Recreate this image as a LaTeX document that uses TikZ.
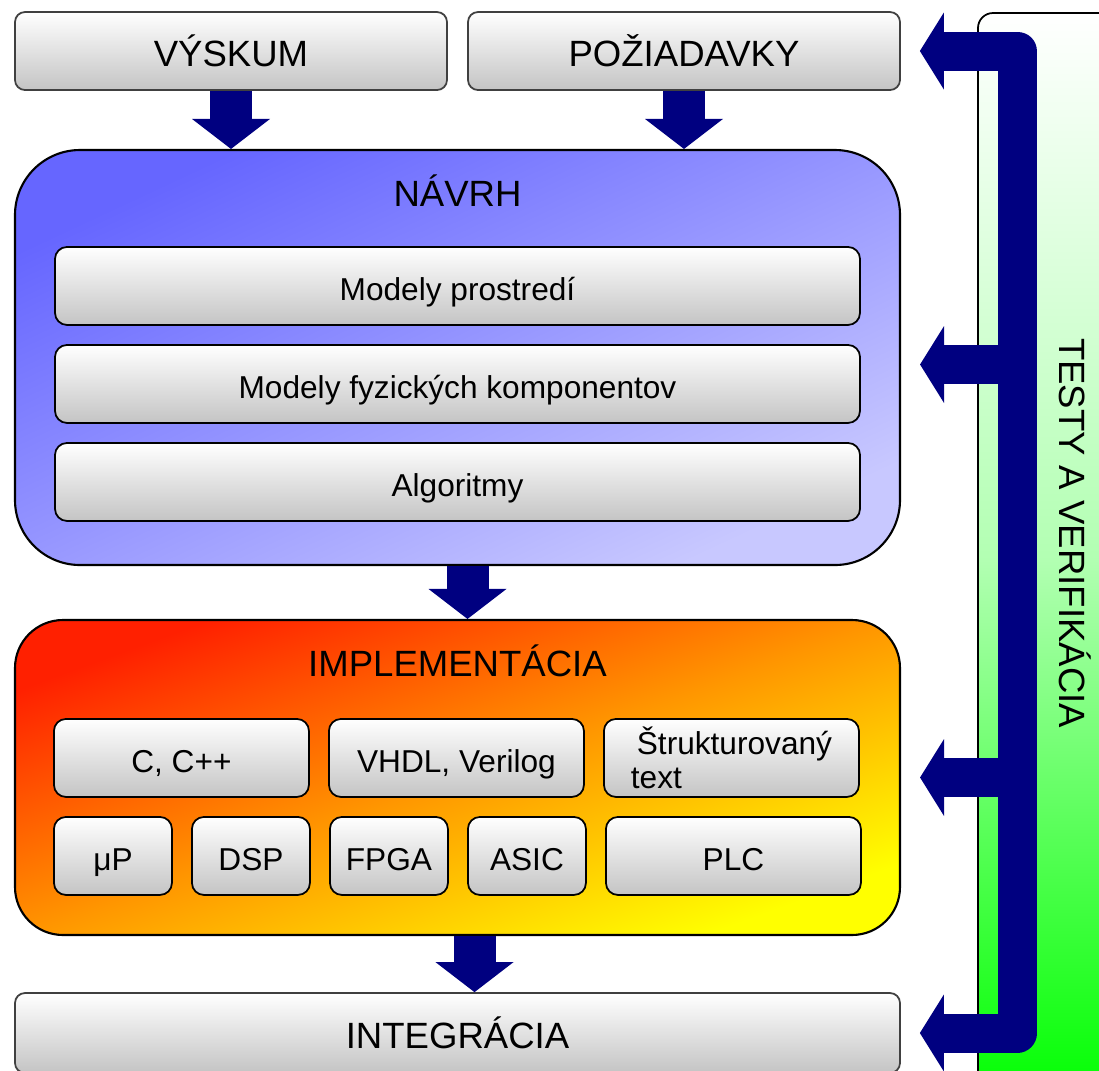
\documentclass[tikz,border=0pt]{standalone}
\usepackage{fontspec}
\setmainfont{Liberation Sans}
\usetikzlibrary{arrows.meta,positioning}
\definecolor{navyarrow}{RGB}{0,0,128}
\definecolor{designtop}{RGB}{102,102,255}
\definecolor{designbottom}{RGB}{200,200,255}
\definecolor{buildred}{RGB}{255,32,0}
\definecolor{buildorange}{RGB}{255,150,0}
\definecolor{buildyellow}{RGB}{255,255,0}
\definecolor{boxgray}{RGB}{196,196,196}

\begin{document}
\begin{tikzpicture}[node distance=0.2cm,
    panel/.style={rectangle, rounded corners=0.1cm, draw=black!75, line width=0.5pt, top color=white, bottom color=boxgray, text centered, minimum height=0.78cm, font=\fontsize{10.4}{12}\selectfont},
    item/.style={rectangle, rounded corners=0.12cm, draw=black, line width=0.5pt, outer sep=0pt, top color=white, bottom color=boxgray, text centered, text height=8.2pt, text depth=0pt, minimum height=0.78cm, font=\fontsize{9}{9.7}\selectfont},
    design/.style={rectangle, rounded corners=0.65cm, draw=black, line width=0.6pt, top color=designtop, bottom color=designbottom, shading angle=25, minimum width=8.85cm, minimum height=4.15cm},
    build/.style={rectangle, rounded corners=0.48cm, draw=black, line width=0.6pt, top color=buildred, bottom color=buildyellow, middle color=buildorange, shading angle=20, minimum width=8.85cm, minimum height=3.15cm},
    strip/.style={rectangle, rounded corners=0.15cm, draw=black, line width=0.5pt, top color=white, bottom color=green, middle color=green!30, minimum width=1.94cm, minimum height=10.9cm},
    headline/.style={font=\fontsize{10.4}{12}\selectfont},
    flow/.style={draw=navyarrow, line width=0.42cm, -{Triangle[width=0.78cm, length=0.30cm, line width=0pt]}},
    rail/.style={draw=navyarrow, line width=0.39cm, line join=round}]
  \clip (0,0) rectangle (10.99,-10.70);

  % testy a verifikacia
  \node (testy) [strip] at (10.75,-5.58) {};
  \node (testytext) [headline, rotate=-90] at (10.75,-5.33) {TESTY A VERIFIKÁCIA};

  \node (vyskum) [panel, minimum width=4.32cm] at (2.31,-0.51) {VÝSKUM};
  \node (poziadavky) [panel, minimum width=4.32cm] at (6.84,-0.51) {POŽIADAVKY};

  % navrh
  \node (navrh) [design] at (4.575,-3.575) {};
  \node (navrhtitle) [headline] at ([yshift=-0.42cm]navrh.north) {NÁVRH};
  \node (prostredie) [item, minimum width=8.05cm, below=0.98cm of navrh.north] {Modely prostredí};
  \node (fyzicke) [item, minimum width=8.05cm, below=of prostredie] {Modely fyzických komponentov};
  \node (algoritmy) [item, minimum width=8.05cm, below=of fyzicke] {Algoritmy};

  % implementacia
  \node (implementacia) [build] at (4.575,-7.775) {};
  \node (impltitle) [headline] at ([yshift=-0.42cm]implementacia.north) {IMPLEMENTÁCIA};
  \node (ccpp) [item, minimum width=2.55cm, below right=1.0cm and 0.4cm of implementacia.north west] {C, C++};
  \node (hdl) [item, minimum width=2.55cm, right=of ccpp] {VHDL, Verilog};
  \node (sttext) [item, minimum width=2.55cm, text height={}, text depth={}, inner ysep=0pt, align=left, right=of hdl] {\hspace{0.06cm}Štrukturovaný\\text};
  \node (mup) [item, minimum width=1.18cm, below right=0.2cm and 0cm of ccpp.south west] {μP};
  \node (dsp) [item, minimum width=1.18cm, right=of mup] {DSP};
  \node (fpga) [item, minimum width=1.18cm, right=of dsp] {FPGA};
  \node (asic) [item, minimum width=1.18cm, right=of fpga] {ASIC};
  \node (plc) [item, minimum width=2.55cm, right=of asic] {PLC};

  \node (integracia) [panel, minimum width=8.85cm, minimum height=0.80cm] at (4.575,-10.33) {INTEGRÁCIA};

  \draw[flow] (vyskum) -- (vyskum |- navrh.north);
  \draw[flow] (poziadavky) -- (poziadavky |- navrh.north);
  \draw[flow] ([xshift=0.1cm]navrh.south) -- ([xshift=0.1cm]implementacia.north);
  \draw[flow] ([xshift=0.17cm]implementacia.south) -- ([xshift=0.17cm]integracia.north);

  % spatna vazba
  \coordinate (railx) at (10.175,0);
  \coordinate (navrhport) at ([yshift=-0.07cm]navrh.east);
  \draw[rail, {Triangle[width=0.77cm, length=0.24cm, line width=0pt]}-{Triangle[width=0.77cm, length=0.24cm, line width=0pt]}, shorten <=0.19cm, shorten >=0.19cm]
    (poziadavky.east) -- (poziadavky.east -| railx) -- (integracia.east -| railx) -- (integracia.east);
  \draw[rail, -{Triangle[width=0.77cm, length=0.24cm, line width=0pt]}, shorten >=0.19cm] (navrhport -| railx) -- (navrhport);
  \draw[rail, -{Triangle[width=0.77cm, length=0.24cm, line width=0pt]}, shorten >=0.19cm] (implementacia.east -| railx) -- (implementacia.east);
\end{tikzpicture}
\end{document}
